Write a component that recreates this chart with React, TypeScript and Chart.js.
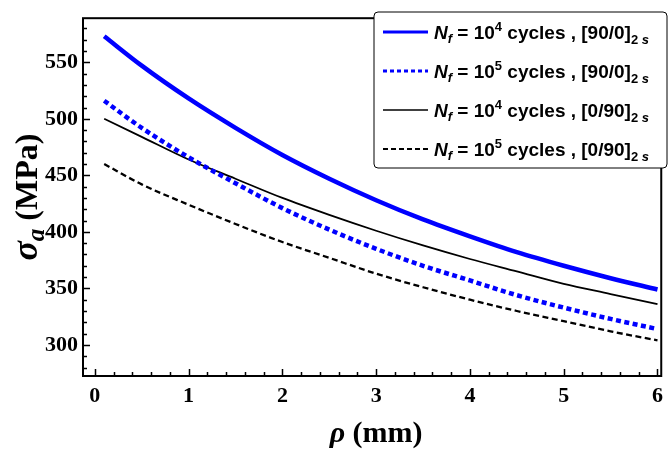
import React, { useEffect, useRef } from "react";
import { Chart, registerables } from "chart.js";

Chart.register(...registerables);

// ---- data ----
const rho = [0.1, 0.5, 1, 1.5, 2, 2.5, 3, 3.5, 4, 4.5, 5, 5.5, 6];
const nf4_90_0 = [573, 547, 518, 492, 468, 447, 428, 411, 396, 382, 370, 359, 349];
const nf5_90_0 = [516, 492, 466, 443, 421, 402, 385, 370, 357, 344, 333, 323, 314];
const nf4_0_90 = [500, 484, 464, 447, 430, 415, 401, 388, 376, 365, 354, 345, 336];
const nf5_0_90 = [460, 442, 424, 407, 391, 377, 363, 351, 340, 330, 321, 312, 304];
const xTicks = [0, 1, 2, 3, 4, 5, 6];
const yTicks = [300, 350, 400, 450, 500, 550];
const legendExponents = ["4", "5", "4", "5"];
const legendLayups = ["[90/0]", "[90/0]", "[0/90]", "[0/90]"];
const seriesLabels = [
  "Nf = 10^4 cycles , [90/0]2s",
  "Nf = 10^5 cycles , [90/0]2s",
  "Nf = 10^4 cycles , [0/90]2s",
  "Nf = 10^5 cycles , [0/90]2s",
];

const SERIF = "'Liberation Serif', 'Times New Roman', serif";
const SANS = "'Liberation Sans', Arial, sans-serif";

type Seg = { t: string; font: string; dy?: number };

function drawSegs(ctx: CanvasRenderingContext2D, segs: Seg[], x: number, y: number, align: "left" | "center") {
  let total = 0;
  for (const s of segs) {
    ctx.font = s.font;
    total += ctx.measureText(s.t).width;
  }
  let cx = align === "center" ? x - total / 2 : x;
  ctx.textAlign = "left";
  ctx.textBaseline = "alphabetic";
  for (const s of segs) {
    ctx.font = s.font;
    ctx.fillText(s.t, cx, y + (s.dy || 0));
    cx += ctx.measureText(s.t).width;
  }
}

const styles = [
  { color: "#0000ff", width: 4.5, dash: [] as number[], lw: 3, ldash: [] as number[] },
  { color: "#0000ff", width: 4.5, dash: [5, 3.5], lw: 3, ldash: [4, 3] },
  { color: "#000000", width: 1.8, dash: [] as number[], lw: 1.5, ldash: [] as number[] },
  { color: "#000000", width: 2.3, dash: [6, 3.5], lw: 2, ldash: [5, 3] },
];

const decorPlugin = {
  id: "decor",
  afterDraw(chart: any) {
    const ctx: CanvasRenderingContext2D = chart.ctx;
    const { left, right, top, bottom } = chart.chartArea;
    const xs = chart.scales.x;
    const ys = chart.scales.y;
    ctx.save();
    // frame
    ctx.strokeStyle = "#000";
    ctx.lineWidth = 2;
    ctx.setLineDash([]);
    ctx.strokeRect(left, top, right - left, bottom - top);
    // ticks
    ctx.lineWidth = 1.5;
    ctx.beginPath();
    for (let v = 0; v <= 6.001; v += 0.2) {
      const px = Math.round(xs.getPixelForValue(v)) + 0.5;
      const major = Math.abs(v - Math.round(v)) < 1e-6;
      ctx.moveTo(px, bottom);
      ctx.lineTo(px, bottom - (major ? 7 : 4));
    }
    for (let v = 280; v <= 580; v += 10) {
      const py = Math.round(ys.getPixelForValue(v)) + 0.5;
      const major = v % 50 === 0;
      ctx.moveTo(left, py);
      ctx.lineTo(left + (major ? 7 : 4), py);
    }
    ctx.stroke();

    // axis titles
    ctx.fillStyle = "#000";
    drawSegs(
      ctx,
      [
        { t: "ρ", font: `italic bold 30px ${SERIF}` },
        { t: " (mm)", font: `bold 30px ${SERIF}` },
      ],
      (left + right) / 2 + 4,
      442,
      "center"
    );
    ctx.save();
    ctx.translate(37, (top + bottom) / 2);
    ctx.rotate(-Math.PI / 2);
    drawSegs(
      ctx,
      [
        { t: "σ", font: `italic bold 36px ${SERIF}` },
        { t: "a", font: `italic bold 25px ${SERIF}`, dy: 7 },
        { t: " (MPa)", font: `bold 32px ${SERIF}` },
      ],
      0,
      0,
      "center"
    );
    ctx.restore();

    // legend
    const bx = 374, by = 12, bw = 293, bh = 156;
    ctx.beginPath();
    ctx.roundRect(bx, by, bw, bh, 4);
    ctx.fillStyle = "#fff";
    ctx.fill();
    ctx.strokeStyle = "#000";
    ctx.lineWidth = 1;
    ctx.stroke();
    const rows = [32, 71, 110, 149];
    rows.forEach((ry, i) => {
      const st = styles[i];
      ctx.strokeStyle = st.color;
      ctx.lineWidth = st.lw;
      ctx.setLineDash(st.ldash);
      ctx.beginPath();
      ctx.moveTo(383, ry);
      ctx.lineTo(428, ry);
      ctx.stroke();
      ctx.setLineDash([]);
      ctx.fillStyle = "#000";
      drawSegs(
        ctx,
        [
          { t: "N", font: `italic bold 19px ${SANS}` },
          { t: "f", font: `italic bold 13px ${SANS}`, dy: 4 },
          { t: " = 10", font: `bold 19px ${SANS}` },
          { t: legendExponents[i], font: `bold 13px ${SANS}`, dy: -8 },
          { t: " cycles , " + legendLayups[i], font: `bold 19px ${SANS}` },
          { t: "2", font: `bold 13px ${SANS}`, dy: 5 },
          { t: " s", font: `italic bold 13px ${SANS}`, dy: 5 },
        ],
        434,
        ry + 7,
        "left"
      );
    });
    ctx.restore();
  },
};

export default function App() {
  const ref = useRef<HTMLCanvasElement | null>(null);
  useEffect(() => {
    document.body.style.margin = "0";
    const series = [nf4_90_0, nf5_90_0, nf4_0_90, nf5_0_90];
    const chart = new Chart(ref.current as HTMLCanvasElement, {
      type: "line",
      data: {
        datasets: series.map((arr, i) => ({
          label: seriesLabels[i],
          data: rho.map((x, j) => ({ x, y: arr[j] })),
          borderColor: styles[i].color,
          borderWidth: styles[i].width,
          borderDash: styles[i].dash,
          borderCapStyle: "butt",
          pointRadius: 0,
          fill: false,
          cubicInterpolationMode: "monotone",
        })),
      },
      options: {
        responsive: false,
        animation: false,
        layout: { padding: { top: 8, right: 1, left: 0, bottom: 0 } },
        plugins: { legend: { display: false }, tooltip: { enabled: false }, title: { display: false } },
        scales: {
          x: {
            type: "linear",
            min: -0.126,
            max: 6.04,
            grid: { display: false, drawTicks: false },
            border: { display: false },
            afterBuildTicks: (s: any) => {
              s.ticks = xTicks.map((v) => ({ value: v }));
            },
            afterFit: (s: any) => {
              s.height = 73;
            },
            ticks: {
              color: "#000",
              padding: 7,
              maxRotation: 0,
              autoSkip: false,
              font: { family: SERIF, size: 22, weight: "bold" },
            },
          },
          y: {
            type: "linear",
            min: 272.5,
            max: 589,
            grid: { display: false, drawTicks: false },
            border: { display: false },
            afterBuildTicks: (s: any) => {
              s.ticks = yTicks.map((v) => ({ value: v }));
            },
            afterFit: (s: any) => {
              s.width = 83;
            },
            ticks: {
              color: "#000",
              padding: 5,
              autoSkip: false,
              font: { family: SERIF, size: 22, weight: "bold" },
            },
          },
        },
      } as any,
      plugins: [decorPlugin],
    });
    return () => chart.destroy();
  }, []);
  return <canvas ref={ref} width={670} height={449} style={{ display: "block" }} />;
}
